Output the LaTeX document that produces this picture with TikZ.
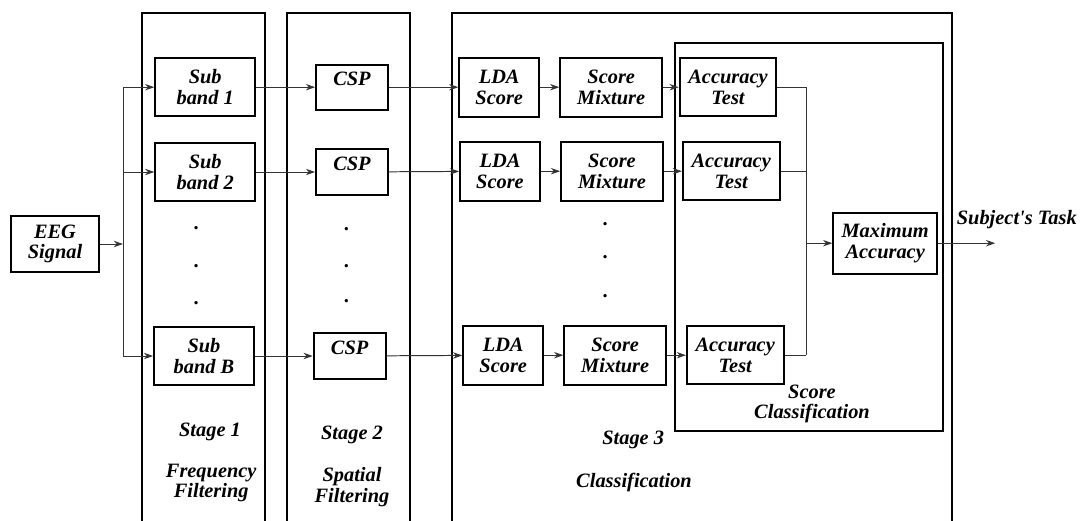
\documentclass[tikz,border=0pt]{standalone}
\usepackage{fontspec}
\setmainfont{Liberation Serif}
\usetikzlibrary{arrows.meta,positioning,calc}
\tikzset{
  txt/.style={font=\fontsize{14.5}{14.5}\selectfont\bfseries\itshape, align=center, inner sep=1pt},
  blockbox/.style={txt, draw=black, line width=1.3pt, inner sep=2pt},
  bandbox/.style={blockbox, minimum width=2.5cm, minimum height=1.45cm},
  cspbox/.style={blockbox, minimum width=1.8cm, minimum height=1.13cm, text height=10pt, text depth=12pt},
  ldabox/.style={blockbox, minimum width=2.0cm, minimum height=1.48cm},
  mixbox/.style={blockbox, minimum width=2.55cm, minimum height=1.47cm},
  testbox/.style={blockbox, minimum width=2.42cm, minimum height=1.45cm},
  stagebox/.style={draw=black, line width=1.3pt},
  dotmark/.style={txt, anchor=base},
  wire/.style={draw=black!80, line width=0.7pt},
  arrow/.style={wire, -{Stealth[length=2.3mm,width=1.6mm]}}
}
\begin{document}
\begin{tikzpicture}
  \useasboundingbox (0,0) rectangle (27.2,-13.025);
  % stage frames
  \draw[stagebox] (3.55,-13.025) |- (6.625,-0.325) -- (6.625,-13.025);
  \draw[stagebox] (7.175,-13.025) |- (10.25,-0.325) -- (10.25,-13.025);
  \draw[stagebox] (11.3,-13.025) |- (23.8,-0.325) -- (23.8,-13.025);
  \draw[stagebox] (16.875,-1.075) rectangle (23.575,-10.775);

  \node[blockbox, minimum width=2.18cm, minimum height=1.4cm] (eeg) at (1.375,-6.1) {EEG\\Signal};

  % stage 1
  \node[bandbox] (sb1) at (5.13,-2.18) {Sub\\band 1};
  \node[bandbox] (sb2) at (5.13,-4.3) {Sub\\band 2};
  \node[bandbox] (sbB) at (5.1,-8.9) {Sub\\band B};
  \node[dotmark] (d11) at (4.92,-5.73) {.};
  \node[dotmark] (d12) at (4.92,-6.68) {.};
  \node[dotmark] (d13) at (4.92,-7.6) {.};
  \node[txt] (st1) at (5.25,-10.8) {Stage 1};
  \node[txt] (ff) at (5.28,-12.08) {Frequency\\Filtering};

  % stage 2
  \node[cspbox] (csp1) at (8.8,-2.18) {CSP};
  \node[cspbox] (csp2) at (8.8,-4.3) {CSP};
  \node[cspbox] (cspB) at (8.74,-8.9) {CSP};
  \node[dotmark] (d21) at (8.68,-5.75) {.};
  \node[dotmark] (d22) at (8.68,-6.68) {.};
  \node[dotmark] (d23) at (8.68,-7.55) {.};
  \node[txt] (st2) at (8.8,-10.875) {Stage 2};
  \node[txt] (sf) at (8.8,-12.18) {Spatial\\Filtering};

  % stage 3
  \node[ldabox] (lda1) at (12.48,-2.18) {LDA\\Score};
  \node[ldabox] (lda2) at (12.5,-4.28) {LDA\\Score};
  \node[ldabox] (ldaB) at (12.58,-8.88) {LDA\\Score};
  \node[mixbox] (mix1) at (15.28,-2.18) {Score\\Mixture};
  \node[mixbox] (mix2) at (15.3,-4.28) {Score\\Mixture};
  \node[mixbox] (mixB) at (15.38,-8.88) {Score\\Mixture};
  \node[testbox] (acc1) at (18.2,-2.18) {Accuracy\\Test};
  \node[testbox] (acc2) at (18.28,-4.28) {Accuracy\\Test};
  \node[testbox] (accB) at (18.38,-8.88) {Accuracy\\Test};
  \node[dotmark] (d31) at (15.15,-5.63) {.};
  \node[dotmark] (d32) at (15.15,-6.45) {.};
  \node[dotmark] (d33) at (15.15,-7.43) {.};
  \node[blockbox, minimum width=2.6cm, minimum height=1.52cm] (maxacc) at (22.13,-6.08) {Maximum\\Accuracy};
  \node[txt] (sc) at (20.3,-10.1) {Score\\Classification};
  \node[txt] (st3) at (15.83,-11.0) {Stage 3};
  \node[txt] (cl) at (15.85,-12.05) {Classification};
  \node[txt] (task) at (25.42,-5.48) {Subject\textquotesingle s Task};

  % fan out
  \coordinate (split) at (3.075,-6.1);
  \coordinate (fan1) at (3.075,-2.18);
  \coordinate (fan2) at (3.075,-4.3);
  \coordinate (fanB) at (3.075,-8.9);
  \draw[arrow] (eeg)--(split);
  \draw[wire] (fan1)--(fanB);
  \draw[arrow] (fan1)--(sb1); \draw[arrow] (fan2)--(sb2); \draw[arrow] (fanB)--(sbB);
  \draw[arrow] (sb1)--(csp1); \draw[arrow] (sb2)--(csp2); \draw[arrow] (sbB)--(cspB);
  \draw[arrow] (csp1)--(lda1); \draw[arrow] (csp2)--(lda2); \draw[arrow] (cspB)--(ldaB);
  \draw[arrow] (lda1)--(mix1); \draw[arrow] (lda2)--(mix2); \draw[arrow] (ldaB)--(mixB);
  \draw[arrow] (mix1)--(acc1); \draw[arrow] (mix2)--(acc2); \draw[arrow] (mixB)--(accB);

  % collect
  \coordinate (col1) at (20.15,-2.18);
  \coordinate (col2) at (20.15,-4.28);
  \coordinate (colB) at (20.15,-8.88);
  \coordinate (colm) at (20.15,-6.08);
  \coordinate (out) at (24.88,-6.08);
  \draw[wire] (acc1)--(col1); \draw[wire] (acc2)--(col2); \draw[wire] (accB)--(colB);
  \draw[wire] (col1)--(colB);
  \draw[arrow] (colm)--(maxacc);
  \draw[arrow] (maxacc)--(out);
\end{tikzpicture}
\end{document}
